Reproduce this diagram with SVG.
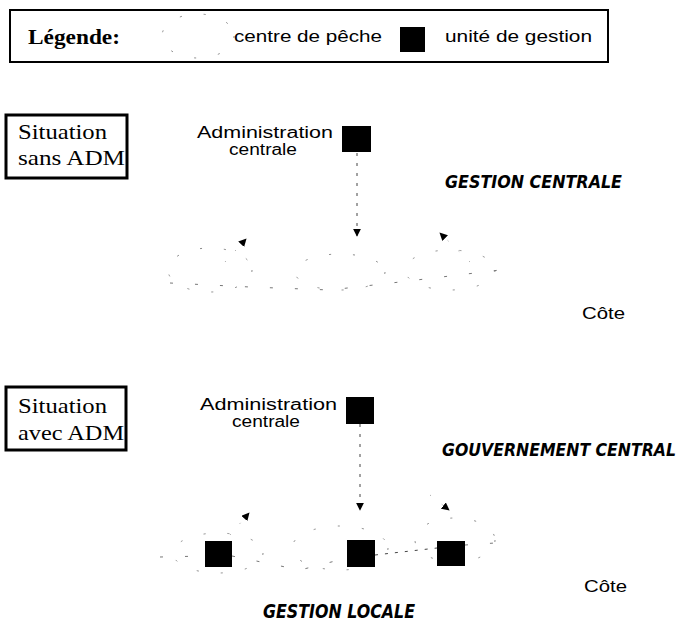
<svg xmlns="http://www.w3.org/2000/svg" width="688" height="623" viewBox="0 0 688 623">
  <style>
    .frame { fill: #fff; stroke: #000; stroke-width: 3; }
    .legendframe { fill: #fff; stroke: #000; stroke-width: 2; }
    .serif { font-family: "Liberation Serif", "Times New Roman", serif; fill: #000; }
    .sans { font-family: "Liberation Sans", Arial, sans-serif; fill: #000; }
    .brush { font-family: "DejaVu Sans", "Liberation Sans", sans-serif; font-weight: bold; font-style: italic; fill: #000; }
    .unit { fill: #000; }
    .centre { fill: none; stroke: #888; stroke-width: 1; stroke-dasharray: 2 22; }
    .coast { fill: none; stroke: #777; stroke-width: 1; stroke-dasharray: 3 22; }
    .link { fill: none; stroke: #444; stroke-width: 1; stroke-dasharray: 3 7; }
    .faint { fill: none; stroke: #999; stroke-width: 1; stroke-dasharray: 1 14; }
  </style>
  <defs>
    <marker id="head" viewBox="0 0 10 10" refX="9" refY="5" markerWidth="8" markerHeight="8" orient="auto" markerUnits="userSpaceOnUse">
      <path d="M0,0 L10,5 L0,10 Z" fill="#000"/>
    </marker>
  </defs>

  <rect width="688" height="623" fill="#fff"/>

  <!-- legend -->
  <g id="legend">
    <rect class="legendframe" x="10" y="10" width="598" height="52"/>
    <text class="serif" x="28" y="44" font-size="20" font-weight="bold" textLength="92" lengthAdjust="spacingAndGlyphs">Légende:</text>
    <ellipse class="centre" cx="198" cy="36" rx="36" ry="22"/>
    <text class="sans" x="234" y="42" font-size="16" textLength="148" lengthAdjust="spacingAndGlyphs">centre de pêche</text>
    <rect class="unit" x="400" y="27" width="25" height="25"/>
    <text class="sans" x="445" y="42" font-size="16" textLength="147" lengthAdjust="spacingAndGlyphs">unité de gestion</text>
  </g>

  <!-- situation without ADM -->
  <g id="label-sans">
    <rect class="frame" x="6" y="115" width="121" height="63"/>
    <text class="serif" x="18" y="139" font-size="22" textLength="89" lengthAdjust="spacingAndGlyphs">Situation</text>
    <text class="serif" x="18" y="165" font-size="22" textLength="107" lengthAdjust="spacingAndGlyphs">sans ADM</text>
  </g>

  <g id="admin-top">
    <text class="sans" x="197" y="138" font-size="16" textLength="136" lengthAdjust="spacingAndGlyphs">Administration</text>
    <text class="sans" x="229" y="155" font-size="16" textLength="68" lengthAdjust="spacingAndGlyphs">centrale</text>
    <rect class="unit" x="342" y="126" width="29" height="26"/>
  </g>

  <text id="gestion-centrale" class="brush" x="445" y="188" font-size="18" textLength="177" lengthAdjust="spacingAndGlyphs">GESTION CENTRALE</text>

  <g id="centres-top">
    <ellipse class="centre" cx="210" cy="270" rx="42" ry="22"/>
    <ellipse class="centre" cx="340" cy="272" rx="45" ry="18"/>
    <ellipse class="centre" cx="450" cy="270" rx="45" ry="20"/>
  </g>

  <text id="cote-top" class="sans" x="582" y="319" font-size="16" textLength="43" lengthAdjust="spacingAndGlyphs">Côte</text>

  <!-- situation with ADM -->
  <g id="label-avec">
    <rect class="frame" x="6" y="387" width="120" height="63"/>
    <text class="serif" x="18" y="413" font-size="22" textLength="89" lengthAdjust="spacingAndGlyphs">Situation</text>
    <text class="serif" x="18" y="440" font-size="22" textLength="106" lengthAdjust="spacingAndGlyphs">avec ADM</text>
  </g>

  <g id="admin-bottom">
    <text class="sans" x="200" y="410" font-size="16" textLength="137" lengthAdjust="spacingAndGlyphs">Administration</text>
    <text class="sans" x="232" y="427" font-size="16" textLength="68" lengthAdjust="spacingAndGlyphs">centrale</text>
    <rect class="unit" x="346" y="397" width="28" height="27"/>
  </g>

  <text id="gouvernement-central" class="brush" transform="translate(442,456) scale(1,1.15)" x="0" y="0" font-size="16" textLength="234" lengthAdjust="spacingAndGlyphs">GOUVERNEMENT CENTRAL</text>

  <g id="centres-bottom">
    <ellipse class="centre" cx="218" cy="553" rx="45" ry="20"/>
    <ellipse class="centre" cx="340" cy="548" rx="48" ry="22"/>
    <ellipse class="centre" cx="455" cy="540" rx="40" ry="22"/>
  </g>

  <g id="units-bottom">
    <rect class="unit" x="205" y="541" width="27" height="26"/>
    <rect class="unit" x="347" y="540" width="28" height="27"/>
    <rect class="unit" x="437" y="541" width="28" height="25"/>
  </g>

  <text id="cote-bottom" class="sans" x="584" y="592" font-size="16" textLength="43" lengthAdjust="spacingAndGlyphs">Côte</text>

  <text id="gestion-locale" class="brush" x="263" y="618" font-size="20" textLength="152" lengthAdjust="spacingAndGlyphs">GESTION LOCALE</text>

  <!-- connectors -->
  <g id="connectors">
    <path class="link" d="M357,153 V236" marker-end="url(#head)"/>
    <path class="faint" d="M225,262 L246,239" marker-end="url(#head)"/>
    <path class="faint" d="M470,262 L440,233" marker-end="url(#head)"/>
    <path class="coast" d="M170,283 L250,287 L330,290 L400,282 L500,270"/>

    <path class="link" d="M360,424 V510" marker-end="url(#head)"/>
    <path class="faint" d="M230,535 L249,513" marker-end="url(#head)"/>
    <path class="faint" d="M430,495 L449,510" marker-end="url(#head)"/>
    <path class="link" d="M375,555 L437,548"/>
    <path class="coast" d="M160,557 L205,556 M232,556 L300,570 L347,558 M465,545 L495,543"/>
  </g>
</svg>
